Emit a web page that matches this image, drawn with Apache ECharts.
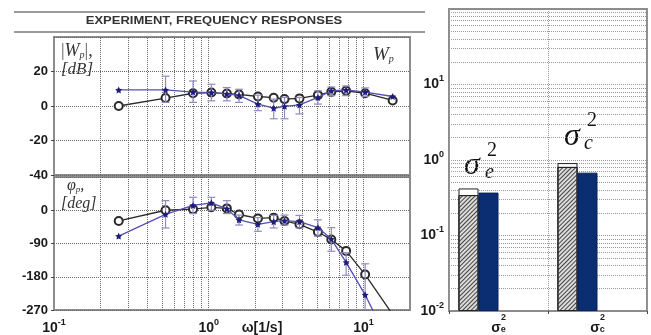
<!DOCTYPE html>
<html><head><meta charset="utf-8">
<script src="https://cdn.jsdelivr.net/npm/echarts@6/dist/echarts.min.js"></script>
<style>html,body{margin:0;padding:0;background:#fff}#c{width:651px;height:335px}</style>
</head><body><div id="c"></div>
<script>
// ---- data ----
const freq = [0.262, 0.526, 0.792, 1.04, 1.31, 1.57, 2.08, 2.63, 3.09, 3.86, 5.08, 6.20, 7.73, 10.26, 15.45];
const magModel = [0, 4.6, 7.4, 7.8, 7.2, 6.7, 5.5, 4.8, 4.0, 4.4, 6.3, 8.2, 8.8, 7.4, 3.2];
const magExp   = [9.3, 9.3, 8.1, 7.8, 7.0, 6.2, 1.1, -1.3, -0.2, 0.6, 5.0, 8.8, 9.3, 8.1, 5.5];
const magErrLow  = [null, 2.1, 2.1, 3.0, 3.0, 2.1, -2.7, -7.4, -7.4, -4.6, 1.1, 6.0, 6.0, 5.5, null];
const magErrHigh = [null, 17.3, 14.5, 12.6, 10.7, 9.7, 6.3, 4.0, 5.0, 5.0, 8.8, 11.0, 11.6, 10.5, null];
const phModel = [-29, 0, 3, 8, 5, -11.5, -22, -20, -29, -38, -59, -79, -110, -174, -282];
const phExp   = [-70, -11, 13, 20, 4, -26, -38, -31, -28, -31, -47, -78, -141, -229, -378];
const phErrLow  = [null, -48, -9, 0, -9, -40, -57, -48, -40, -48, -70, -111, -176, -300, null];
const phErrHigh = [null, 26, 35, 35, 26, -13, -20, -14, -13, -14, -26, -47, -115, -145, null];
const gridFreq = [0.2,0.3,0.4,0.5,0.6,0.7,0.8,0.9,1,2,3,4,5,6,7,8,9,10];
const magTicks = {min: -40, max: 40, step: 20};
const phTicks = {min: -270, max: 90, step: 90};
const barCats = ['σe²', 'σc²'];
const barHatched = [0.343, 0.81];
const barOutline = [0.42, 0.91];
const barBlue = [0.37, 0.68];
const barGridVals = [0.02,0.03,0.04,0.05,0.06,0.07,0.08,0.09,0.1,0.2,0.3,0.4,0.5,0.6,0.7,0.8,0.9,1,2,3,4,5,6,7,8,9,10,20,30,40,50,60,70,80,90];

// ---- chart ----
const chart = echarts.init(document.getElementById('c'), null, {renderer: 'canvas'});
const frame = {show: true, borderColor: '#8c8c8c', borderWidth: 2, backgroundColor: '#fff'};
const dotted = {type: 'dotted', color: '#6a6a6a', width: 1};
const dottedLight = {type: 'dotted', color: '#9a9a9a', width: 1};
const numLabel = {fontSize: 13, fontWeight: 'bold', color: '#1a1a1a', fontFamily: 'Liberation Sans', margin: 6};
const powRich = {
  b: {fontSize: 14, fontWeight: 'bold', color: '#1a1a1a', fontFamily: 'Liberation Sans', lineHeight: 20},
  sup: {fontSize: 9, fontWeight: 'bold', color: '#1a1a1a', fontFamily: 'Liberation Sans', verticalAlign: 'top', lineHeight: 10}
};
function powFmt(v) {
  const e = Math.log10(v), r = Math.round(e);
  if (Math.abs(e - r) > 1e-6) return '';
  return '{b|10}{sup|' + r + '}';
}
function errData(x, lo, hi) {
  const out = [];
  x.forEach((f, i) => { if (lo[i] != null && hi[i] != null) out.push([f, lo[i], hi[i]]); });
  return out;
}
function errRender(params, api) {
  const x = api.value(0);
  const p1 = api.coord([x, api.value(2)]);
  const p2 = api.coord([x, api.value(1)]);
  const w = 4;
  const st = {stroke: '#8f8bc0', lineWidth: 1.2};
  return {type: 'group', children: [
    {type: 'line', shape: {x1: p1[0], y1: p1[1], x2: p2[0], y2: p2[1]}, style: st},
    {type: 'line', shape: {x1: p1[0]-w, y1: p1[1], x2: p1[0]+w, y2: p1[1]}, style: st},
    {type: 'line', shape: {x1: p2[0]-w, y1: p2[1], x2: p2[0]+w, y2: p2[1]}, style: st}
  ]};
}
const starPath = 'path://M0,-10 L2.9,-4 9.5,-3.1 4.7,1.5 5.9,8.1 0,5 -5.9,8.1 -4.7,1.5 -9.5,-3.1 -2.9,-4Z';
function modelSeries(xi, data) {
  return {type: 'line', xAxisIndex: xi, yAxisIndex: xi, data: freq.map((f, i) => [f, data[i]]),
    symbol: 'emptyCircle', symbolSize: 8, clip: true, z: 3,
    lineStyle: {color: '#2a2a2a', width: 1.3}, itemStyle: {color: '#2a2a2a', borderWidth: 1.2},
    markLine: {silent: true, symbol: 'none', z: 1, label: {show: false}, lineStyle: dotted, animation: false,
      data: gridFreq.map(v => ({xAxis: v}))}};
}
function expSeries(xi, data) {
  return {type: 'line', xAxisIndex: xi, yAxisIndex: xi, data: freq.map((f, i) => [f, data[i]]),
    symbol: starPath, symbolSize: 7, clip: true, z: 5,
    lineStyle: {color: '#5450b4', width: 1.3}, itemStyle: {color: '#1e1c7c'}};
}
function errSeries(xi, lo, hi) {
  return {type: 'custom', xAxisIndex: xi, yAxisIndex: xi, clip: true, z: 4,
    data: errData(freq, lo, hi), renderItem: errRender};
}
function valY(gi, t) {
  return {type: 'value', gridIndex: gi, min: t.min, max: t.max, interval: t.step,
    axisLine: {show: false}, axisTick: {show: true, inside: false, length: 3, lineStyle: {color: '#444'}},
    axisLabel: Object.assign({showMaxLabel: false}, numLabel),
    splitLine: {show: true, lineStyle: dotted}};
}
const serifIt = 'Liberation Serif';
function txt(x, y, text, size, extra) {
  return {type: 'text', x: x, y: y, silent: true,
    style: Object.assign({text: text, fontFamily: serifIt, fontStyle: 'italic', fontSize: size, fill: '#2a2a2a',
      verticalAlign: 'middle'}, extra || {})};
}
const itRich = (size, subSize) => ({
  t: {fontFamily: serifIt, fontStyle: 'italic', fontSize: size, fill: '#333'},
  v: {fontFamily: serifIt, fontStyle: 'normal', fontSize: size, fill: '#555'},
  s: {fontFamily: serifIt, fontStyle: 'italic', fontSize: subSize, fill: '#333', verticalAlign: 'bottom', lineHeight: size - 3}
});

const option = {
  animation: false,
  backgroundColor: '#fff',
  grid: [
    Object.assign({left: 54, top: 37, width: 356, height: 138}, frame),
    Object.assign({left: 54, top: 177, width: 356, height: 136}, frame),
    Object.assign({left: 449, top: 9, width: 198, height: 305}, frame)
  ],
  xAxis: [
    {type: 'log', gridIndex: 0, min: 0.1, max: 20, logBase: 10, axisLine: {show: false}, axisTick: {show: false},
      axisLabel: {show: false}, splitLine: {show: false}},
    {type: 'log', gridIndex: 1, min: 0.1, max: 20, logBase: 10, axisLine: {show: false}, axisTick: {show: false},
      axisLabel: {formatter: powFmt, rich: powRich, margin: 8, showMaxLabel: false}, splitLine: {show: false}},
    {type: 'category', gridIndex: 2, data: barCats, axisLine: {show: false},
      axisTick: {show: true, length: 3, interval: 0, lineStyle: {color: '#444'}},
      splitLine: {show: true, interval: 0, lineStyle: dottedLight},
      axisLabel: {interval: 0, margin: 2, formatter: v => '{sup|2}\n{s|σ}{sub|' + v.charAt(1) + '}',
        rich: {
          sup: {fontSize: 9, fontWeight: 'bold', color: '#1a1a1a', padding: [0, 0, 0, 10], lineHeight: 9},
          s: {fontSize: 14, fontWeight: 'bold', color: '#1a1a1a', lineHeight: 12},
          sub: {fontSize: 9, fontWeight: 'bold', color: '#1a1a1a', verticalAlign: 'bottom', lineHeight: 8}
        }}},
    {type: 'category', gridIndex: 2, data: barCats, show: false}
  ],
  yAxis: [
    valY(0, magTicks),
    valY(1, phTicks),
    {type: 'log', gridIndex: 2, min: 0.01, max: 100, logBase: 10, startValue: 0.01,
      axisLine: {show: false}, axisTick: {show: false},
      axisLabel: {formatter: powFmt, rich: powRich, margin: 5, showMaxLabel: false},
      splitLine: {show: false}}
  ],
  series: [
    modelSeries(0, magModel), errSeries(0, magErrLow, magErrHigh), expSeries(0, magExp),
    modelSeries(1, phModel), errSeries(1, phErrLow, phErrHigh), expSeries(1, phExp),
    // outline bars (behind)
    {type: 'bar', xAxisIndex: 3, yAxisIndex: 2, data: barOutline, barWidth: 20, barGap: '0%', z: 2,
      itemStyle: {color: '#fff', borderColor: '#222', borderWidth: 1},
      markLine: {silent: true, symbol: 'none', z: 1, label: {show: false}, lineStyle: dottedLight, animation: false,
        data: barGridVals.map(v => ({yAxis: v}))}},
    {type: 'bar', xAxisIndex: 3, yAxisIndex: 2, data: [], barWidth: 20, barGap: '0%'},
    {type: 'bar', xAxisIndex: 3, yAxisIndex: 2, data: [], barWidth: 20, barGap: '0%'},
    {type: 'bar', xAxisIndex: 3, yAxisIndex: 2, data: [], barWidth: 20, barGap: '0%'},
    {type: 'bar', xAxisIndex: 2, yAxisIndex: 2, data: barHatched, barWidth: 20, barGap: '0%', z: 3,
      itemStyle: {color: '#dcdcdc', borderColor: '#222', borderWidth: 1,
        decal: {symbol: 'rect', symbolSize: 1, dashArrayX: [1, 0], dashArrayY: [1, 2], rotation: -Math.PI / 4, color: '#444'}}},
    {type: 'bar', xAxisIndex: 2, yAxisIndex: 2, data: barBlue, barWidth: 20, barGap: '0%', z: 3,
      itemStyle: {color: '#0b2d72', borderColor: '#0a2358', borderWidth: 1}},
    {type: 'bar', xAxisIndex: 2, yAxisIndex: 2, data: [], barWidth: 20, barGap: '0%'},
    {type: 'bar', xAxisIndex: 2, yAxisIndex: 2, data: [], barWidth: 20, barGap: '0%'}
  ],
  graphic: [
    {type: 'line', shape: {x1: 14, y1: 12, x2: 425, y2: 12}, style: {stroke: '#7a7a7a', lineWidth: 1.5}},
    {type: 'line', shape: {x1: 14, y1: 32, x2: 425, y2: 32}, style: {stroke: '#7a7a7a', lineWidth: 1.5}},
    {type: 'text', x: 214, y: 21, scaleX: 1.3, silent: true,
      style: {text: 'EXPERIMENT, FREQUENCY RESPONSES', fontFamily: 'Liberation Sans', fontWeight: 'bold', fontSize: 10,
        fill: '#333', align: 'center', verticalAlign: 'middle'}},
    {type: 'text', x: 61, y: 51, silent: true,
      style: {text: '{v||}{t|W}{s|p}{v||}{t|,}', verticalAlign: 'middle', rich: itRich(18, 10)}},
    txt(61, 70, '[dB]', 17, {fill: '#333'}),
    {type: 'text', x: 373, y: 55, silent: true,
      style: {text: '{t|W}{s|p}', verticalAlign: 'middle', rich: itRich(19, 10)}},
    {type: 'text', x: 67, y: 186, silent: true,
      style: {text: '{t|φ}{s|p}{t|,}', verticalAlign: 'middle', rich: itRich(16, 9)}},
    txt(61, 204, '[deg]', 16, {fill: '#333'}),
    {type: 'text', x: 262, y: 328, silent: true,
      style: {text: 'ω[1/s]', fontFamily: 'Liberation Sans', fontWeight: 'bold', fontSize: 14, fill: '#1a1a1a',
        align: 'center', verticalAlign: 'middle'}},
    // sigma labels in bar panel
    txt(464, 166, 'σ', 32, {fill: '#111'}),
    txt(485, 173, 'e', 20, {fill: '#111'}),
    txt(487, 151, '2', 20, {fill: '#111', fontStyle: 'normal'}),
    txt(564, 137, 'σ', 32, {fill: '#111'}),
    txt(584, 144, 'c', 20, {fill: '#111'}),
    txt(587, 121, '2', 20, {fill: '#111', fontStyle: 'normal'})
  ]
};
chart.setOption(option);
</script>
</body></html>
